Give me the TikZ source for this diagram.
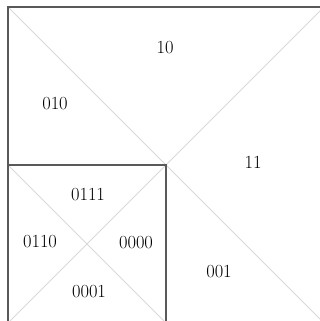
\documentclass[tikz,border=0pt]{standalone}
\begin{document}
\begin{tikzpicture}[x=1pt,y=-1pt,
  edge/.style={draw=black!65,line width=1.3pt},
  diag/.style={draw=black!15,line width=0.9pt},
  lab/.style={font=\fontsize{18.5}{20}\selectfont,text=black,inner sep=0pt}]
\useasboundingbox (0,0) rectangle (320,321);
\clip (0,0) rectangle (320,321);
\coordinate (A) at (8,7);
\coordinate (B) at (324,7);
\coordinate (C) at (324,323);
\coordinate (D) at (8,323);
\coordinate (M) at (166,165);
\coordinate (L) at (8,165);
\coordinate (Q) at (166,323);
% diagonals
\draw[diag] (A) -- (C);
\draw[diag] (B) -- (D);
\draw[diag] (L) -- (Q);
% borders
\draw[edge] (D) -- (A) -- (B) -- (C) -- cycle;
\draw[edge] (L) -- (M) -- (Q);
% labels
\node[lab] (n10) at (165,48) {10};
\node[lab] (n010) at (55,104) {010};
\node[lab] (n11) at (253,162) {11};
\node[lab] (n0111) at (88,195) {0111};
\node[lab] (n0110) at (40,242) {0110};
\node[lab] (n0000) at (136,243) {0000};
\node[lab] (n0001) at (89,292) {0001};
\node[lab] (n001) at (219,272) {001};
\end{tikzpicture}
\end{document}
